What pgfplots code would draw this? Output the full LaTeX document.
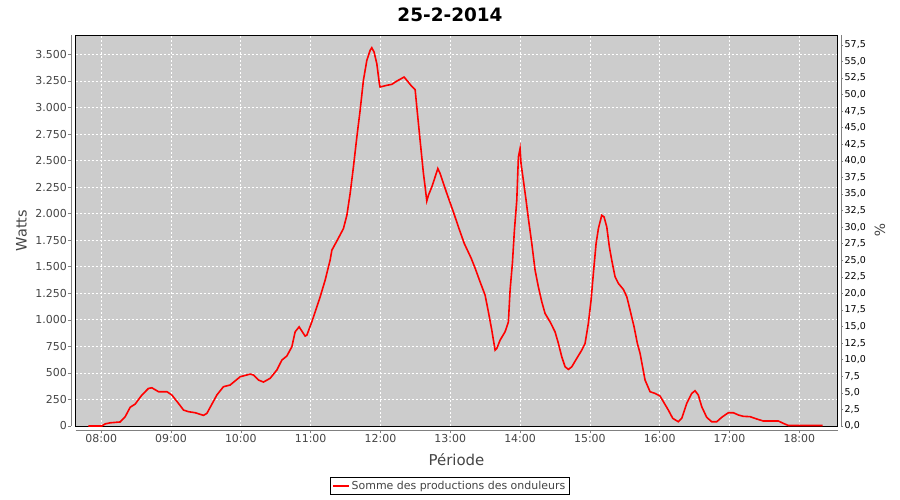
\documentclass[border=0pt]{standalone}
\usepackage{pgfplots}
\pgfplotsset{compat=1.18}
\usepackage{fontspec}
\setmainfont{DejaVu Sans}
\definecolor{plotbg}{HTML}{CCCCCC}
\definecolor{labelgray}{HTML}{444444}
\definecolor{axgray}{HTML}{808080}
\pgfplotstableread{
t W
7.818 0
8.010 0
8.057 20
8.129 30
8.272 38
8.344 88
8.415 176
8.487 207
8.583 292
8.677 354
8.726 360
8.821 323
8.941 323
9.012 292
9.107 213
9.179 150
9.250 135
9.346 125
9.418 110
9.465 100
9.514 119
9.657 292
9.751 370
9.847 386
9.991 464
10.134 489
10.181 480
10.253 433
10.324 414
10.420 449
10.516 527
10.588 621
10.659 659
10.731 746
10.778 887
10.835 934
10.921 847
10.946 856
11.017 981
11.089 1122
11.136 1216
11.208 1374
11.279 1562
11.304 1656
11.390 1760
11.470 1860
11.519 1985
11.566 2190
11.613 2440
11.662 2722
11.709 2973
11.756 3256
11.805 3444
11.852 3538
11.876 3563
11.909 3522
11.948 3413
11.985 3224
11.995 3193
12.091 3209
12.163 3218
12.235 3249
12.339 3287
12.378 3256
12.449 3199
12.497 3168
12.521 3004
12.568 2691
12.616 2378
12.640 2252
12.664 2120
12.687 2173
12.736 2252
12.783 2346
12.822 2425
12.855 2378
12.951 2190
13.045 2016
13.117 1875
13.200 1720
13.300 1580
13.360 1480
13.427 1358
13.499 1233
13.546 1076
13.595 903
13.642 715
13.667 731
13.714 809
13.785 887
13.833 981
13.857 1280
13.890 1531
13.919 1844
13.953 2127
13.976 2534
14.000 2613
14.014 2472
14.047 2315
14.086 2127
14.119 1954
14.168 1719
14.215 1468
14.262 1311
14.311 1170
14.358 1060
14.430 981
14.501 887
14.549 778
14.597 652
14.645 558
14.692 533
14.741 558
14.812 637
14.884 715
14.931 778
14.978 966
15.017 1185
15.050 1437
15.089 1719
15.122 1860
15.170 1985
15.203 1969
15.242 1875
15.279 1687
15.313 1562
15.361 1405
15.408 1343
15.480 1286
15.529 1217
15.576 1091
15.633 934
15.680 778
15.719 684
15.790 433
15.862 323
15.934 307
16.005 282
16.053 229
16.124 150
16.187 72
16.267 40
16.316 72
16.387 213
16.459 307
16.506 332
16.553 292
16.602 182
16.673 82
16.745 40
16.817 40
16.889 82
16.983 125
17.055 125
17.126 104
17.198 91
17.294 88
17.390 66
17.484 47
17.699 47
17.771 25
17.842 5
18.335 5
}\prodtable
\begin{document}
\begin{tikzpicture}
\useasboundingbox (0,0) rectangle (900bp,500bp);
\node[font=\bfseries\fontsize{18.5}{18.5}\selectfont, text=black] at (450bp,485bp) {25-2-2014};
% plot area with data
\begin{axis}[at={(75.5bp,74bp)}, anchor=south west, scale only axis,
  width=762bp, height=391bp,
  xmin=7.632, xmax=18.547, ymin=0, ymax=3683,
  axis background/.style={fill=plotbg},
  axis line style={black, line width=0.8bp},
  xtick={8,9,...,18}, ytick={0,250,...,3500},
  xticklabel={\relax}, yticklabel={\relax},
  major tick length=0pt,
  grid=major,
  major grid style={white, line width=0.7bp, dash pattern=on 2bp off 2bp},
  clip=false,
  legend style={at={(axis description cs:0.491,-0.1535)}, anchor=center,
    draw=black, line width=0.8bp, fill=white, font=\fontsize{11}{13}\selectfont,
    text=labelgray, inner xsep=2bp, inner ysep=1.5bp},
  legend cell align=left,
  legend image code/.code={\draw[#1] (0bp,0bp) -- (16bp,0bp);},
]
\addplot[red, line width=1.6bp] table[x=t, y=W] {\prodtable};
\addlegendentry{Somme des productions des onduleurs}
\end{axis}
% left axis
\begin{axis}[at={(71bp,74bp)}, anchor=south west, scale only axis,
  width=762bp, height=391bp,
  xmin=7.632, xmax=18.547, ymin=0, ymax=3683,
  hide x axis, axis y line*=left,
  y axis line style={-, axgray, line width=0.8bp},
  ytick={0,250,...,3500},
  tick align=outside, major tick length=3bp,
  tick style={axgray, line width=0.6bp},
  yticklabel style={font=\fontsize{11}{11}\selectfont, text=labelgray, inner sep=1bp},
  /pgf/number format/assume math mode=true,
  /pgf/number format/1000 sep={.},
  ylabel={Watts},
  ylabel style={at={(axis description cs:-0.065,0.5)}, anchor=center,
    font=\fontsize{14.5}{14.5}\selectfont, text=labelgray},
]
\end{axis}
% bottom axis
\begin{axis}[at={(75.5bp,70bp)}, anchor=south west, scale only axis,
  width=762bp, height=391bp,
  xmin=7.632, xmax=18.547, ymin=0, ymax=3683,
  hide y axis, axis x line*=bottom,
  x axis line style={-, axgray, line width=0.8bp},
  xtick={8,9,...,18},
  xticklabels={08:00,09:00,10:00,11:00,12:00,13:00,14:00,15:00,16:00,17:00,18:00},
  tick align=outside, major tick length=3bp,
  tick style={axgray, line width=0.6bp},
  xticklabel style={font=\fontsize{11}{11}\selectfont, text=labelgray, inner sep=1.5bp},
  xlabel={Période},
  xlabel style={at={(axis description cs:0.5,-0.0767)}, anchor=center,
    font=\fontsize{15}{15}\selectfont, text=labelgray},
]
\end{axis}
% right axis
\begin{axis}[at={(841bp,74bp)}, anchor=south east, scale only axis,
  width=762bp, height=391bp,
  xmin=7.632, xmax=18.547, ymin=0, ymax=58.99,
  hide x axis, axis y line*=right,
  y axis line style={-, axgray, line width=0.8bp},
  ytick={0,2.5,...,57.5},
  tick align=outside, major tick length=2bp,
  tick style={axgray, line width=0.6bp},
  yticklabel style={font=\fontsize{9.5}{9.5}\selectfont, text=black, inner sep=1.5bp,
    /pgf/number format/.cd, fixed, fixed zerofill, precision=1, use comma},
  /pgf/number format/assume math mode=true,
  ylabel={\%},
  ylabel style={at={(axis description cs:1.051,0.5)}, anchor=center, rotate=180,
    font=\fontsize{14}{14}\selectfont, text=labelgray},
]
\end{axis}
\end{tikzpicture}
\end{document}
